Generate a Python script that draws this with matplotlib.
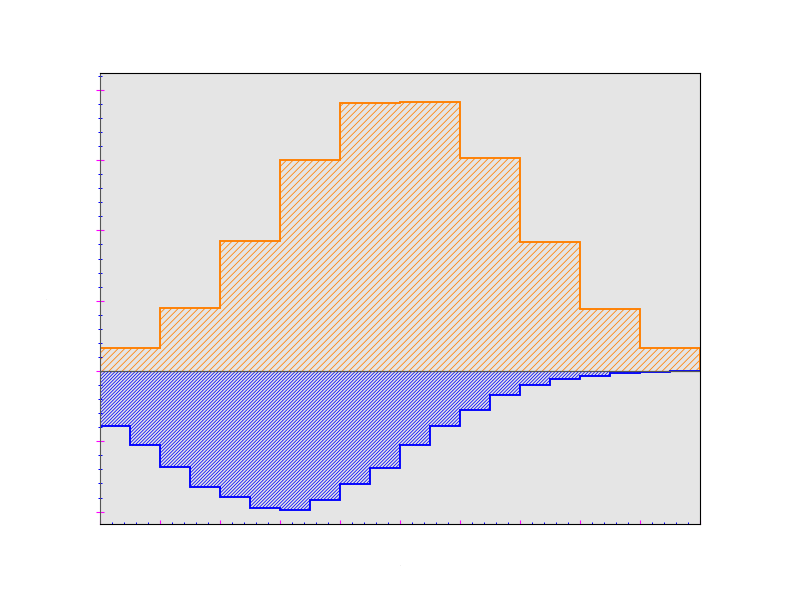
import numpy as np
import matplotlib
matplotlib.use('Agg')
import matplotlib.pyplot as plt
from matplotlib.ticker import MultipleLocator

# wide bins (upper histogram) and narrow bins (lower, mirrored histogram)
edges_top = np.arange(0, 11, 1.0)
vals_top = [0.327, 0.892, 1.845, 2.997, 3.808, 3.831, 3.026, 1.835, 0.882, 0.327]

edges_bot = np.arange(0, 10.5, 0.5)
vals_bot = [0.782, 1.057, 1.370, 1.654, 1.797, 1.953, 1.977, 1.839, 1.612, 1.384,
            1.057, 0.787, 0.559, 0.346, 0.203, 0.118, 0.071, 0.033, 0.018, 0.005]

orange = '#ff7f00'
blue = '#0000ff'
magenta = '#ff00ff'

plt.rcParams['hatch.linewidth'] = 0.7

# dpi 80 so the hatch cell is 80 px (denser hatch spacing like the reference)
fig = plt.figure(figsize=(10, 7.5), dpi=80)
ax = fig.add_axes([0.125, 0.1267, 0.75, 0.7516])
ax.set_facecolor('#e5e5e5')

# upper histogram
ax.stairs(vals_top, edges_top, baseline=0, fill=True, facecolor='none',
          edgecolor=orange, hatch='////', linewidth=0)
ax.stairs(vals_top, edges_top, baseline=0, fill=False, color=orange, linewidth=1.7)

# lower histogram (negative)
neg = -np.array(vals_bot)
ax.stairs(neg, edges_bot, baseline=0, fill=True, facecolor='none',
          edgecolor=blue, hatch='////////', linewidth=0)
ax.stairs(neg, edges_bot, baseline=0, fill=False, color=blue, linewidth=1.7)
ax.axhline(0, color='#555555', linewidth=1.1, zorder=1.9)

ax.set_xlim(0, 10)
ax.set_ylim(-2.176, 4.239)

ax.xaxis.set_major_locator(MultipleLocator(1))
ax.xaxis.set_minor_locator(MultipleLocator(0.2))
ax.yaxis.set_major_locator(MultipleLocator(1))
ax.yaxis.set_minor_locator(MultipleLocator(0.2))

ax.tick_params(axis='x', which='major', direction='in', length=3.6, width=1.0,
               color=magenta, labelbottom=False)
ax.tick_params(axis='x', which='minor', direction='in', length=1.8, width=0.9,
               color=blue)
ax.tick_params(axis='y', which='major', direction='inout', length=7.8, width=1.0,
               color=magenta, labelleft=False)
ax.tick_params(axis='y', which='minor', direction='inout', length=4.2, width=0.9,
               color=blue)

for s in ['top', 'right', 'bottom']:
    ax.spines[s].set_color('black')
    ax.spines[s].set_linewidth(1.0)
ax.spines['left'].set_color('#555555')
ax.spines['left'].set_linewidth(1.0)

# axis titles are drawn almost invisibly small in the original
ax.set_xlabel('x', fontsize=1, color='#bbbbbb')
ax.set_ylabel('y', fontsize=1, color='#bbbbbb')
ax.xaxis.set_label_coords(0.5, -(565 - 524) / 451)
ax.yaxis.set_label_coords(-(100 - 48) / 600, 0.5)

fig.savefig('out.png', dpi=80)
